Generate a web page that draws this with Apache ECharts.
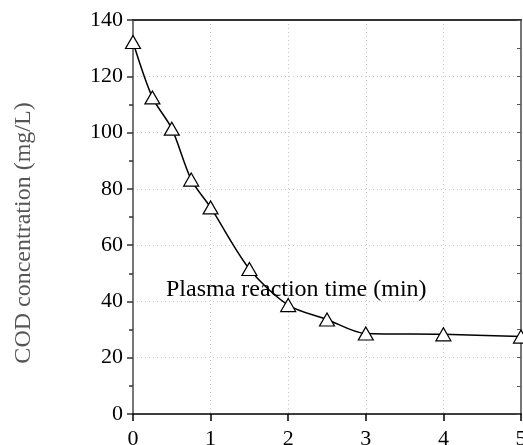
<!DOCTYPE html>
<html>
<head>
<meta charset="utf-8">
<script src="https://cdn.jsdelivr.net/npm/echarts@6/dist/echarts.min.js"></script>
<style>html,body{margin:0;padding:0;background:#fff}#c{width:523px;height:445px}</style>
</head>
<body>
<div id="c"></div>
<script>
const timeMin = [0, 0.25, 0.5, 0.75, 1, 1.5, 2, 2.5, 3, 4, 5];
const codValues = [132.2, 112.5, 101.4, 83.3, 73.4, 51.5, 38.7, 33.6, 28.6, 28.3, 27.5];
const xTitle = 'Plasma reaction time (min)';
const yTitle = 'COD concentration (mg/L)';

const FONT = "'Liberation Serif', 'Times New Roman', serif";
const chart = echarts.init(document.getElementById('c'));
chart.setOption({
  animation: false,
  backgroundColor: '#fff',
  grid: {left: 133, right: 2, top: 20, bottom: 31, containLabel: false, outerBoundsMode: 'none'},
  xAxis: [{
    type: 'value', min: 0, max: 5, interval: 1, position: 'bottom',
    axisLine: {onZero: false, lineStyle: {color: '#000', width: 1.5}},
    axisTick: {inside: false, length: 7, lineStyle: {color: '#000', width: 1.5}},
    axisLabel: {margin: 14, fontFamily: FONT, fontSize: 22, color: '#000'},
    splitLine: {show: true, lineStyle: {color: '#c8c8c8', type: [1, 3], width: 1}}
  }, {
    type: 'value', min: 0, max: 5, interval: 1, position: 'top',
    axisLine: {onZero: false, lineStyle: {color: '#333', width: 2}},
    axisTick: {show: false}, axisLabel: {show: false}, splitLine: {show: false}
  }],
  yAxis: [{
    type: 'value', min: 0, max: 140, interval: 20, position: 'left',
    axisLine: {show: true, onZero: false, lineStyle: {color: '#777', width: 2}},
    axisTick: {show: true, inside: false, length: 6, lineStyle: {color: '#333', width: 1.5}},
    minorTick: {show: true, splitNumber: 2, length: 4, lineStyle: {color: '#333', width: 1.5}},
    axisLabel: {margin: 10, fontFamily: FONT, fontSize: 22, color: '#000'},
    splitLine: {show: true, lineStyle: {color: '#c8c8c8', type: [1, 3], width: 1}}
  }, {
    type: 'value', min: 0, max: 140, interval: 20, position: 'right',
    axisLine: {show: true, onZero: false, lineStyle: {color: '#777', width: 2}},
    axisTick: {show: true, inside: true, length: 4, lineStyle: {color: '#555', width: 1}},
    minorTick: {show: true, splitNumber: 2, length: 4, lineStyle: {color: '#555', width: 1}},
    axisLabel: {show: false}, splitLine: {show: false}
  }],
  graphic: [{
    type: 'text', left: 166, top: 278, silent: true,
    style: {text: xTitle, font: '24px ' + FONT, fill: '#000'}
  }, {
    type: 'text', x: 24, y: 233, rotation: Math.PI / 2, silent: true,
    style: {text: yTitle, font: '24px ' + FONT, fill: '#555', align: 'center', verticalAlign: 'middle'}
  }],
  series: [{
    type: 'line',
    data: timeMin.map((t, i) => [t, codValues[i]]),
    smooth: 0.3,
    lineStyle: {color: '#000', width: 1.5},
    symbol: 'triangle', symbolSize: [15, 13],
    itemStyle: {color: '#fff', borderColor: '#000', borderWidth: 1.2},
    z: 5, clip: false
  }]
});
</script>
</body>
</html>
